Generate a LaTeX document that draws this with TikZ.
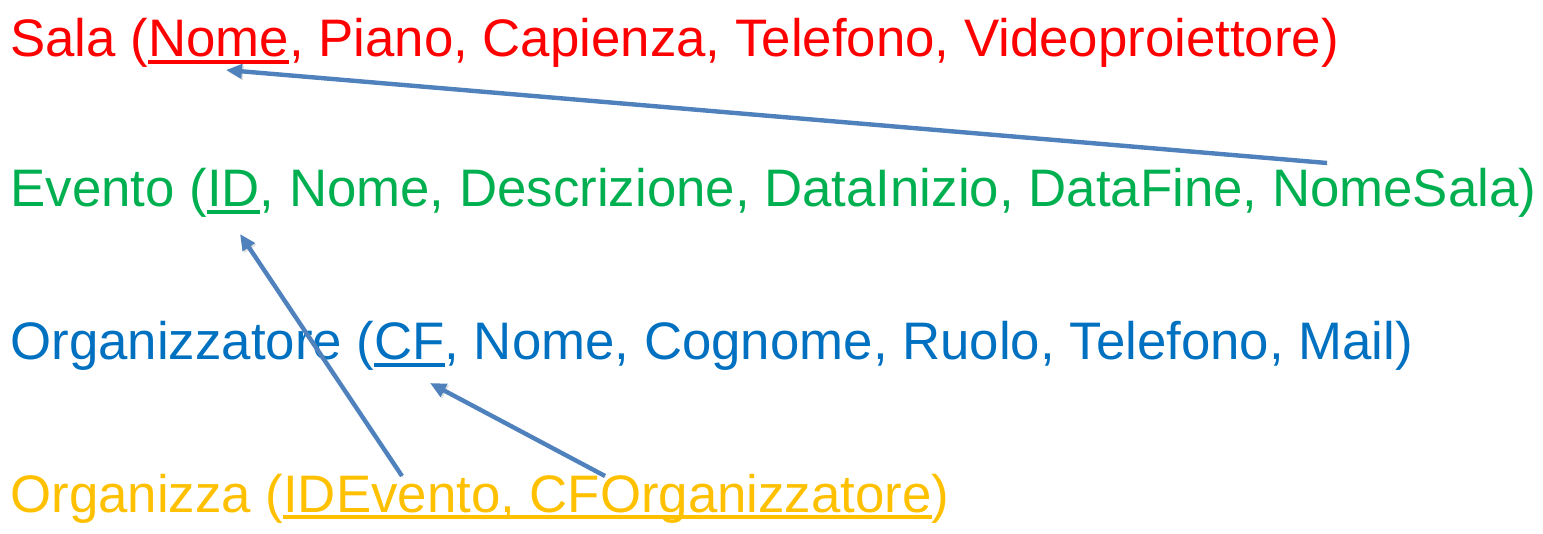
\documentclass[tikz,border=0pt]{standalone}
\usepackage{fontspec}
\setmainfont{Liberation Sans}
\usetikzlibrary{arrows.meta}
\definecolor{salaRed}{RGB}{255,0,0}
\definecolor{eventoGreen}{RGB}{0,176,80}
\definecolor{orgBlue}{RGB}{0,112,192}
\definecolor{orgzYellow}{RGB}{255,192,0}
\definecolor{fkBlue}{RGB}{79,129,189}
\tikzstyle{relazione}=[inner sep=0pt, anchor=base west,
  font=\fontsize{26.4pt}{32pt}\selectfont]
\tikzstyle{line}=[draw, line width=2.2pt, color=fkBlue,
  -{Triangle[length=8pt,width=7pt]},
  preaction={draw=black!12, transform canvas={shift={(0.7pt,-0.8pt)}}}]
% underlined key attribute
\newcommand{\chiave}[1]{\setbox0\hbox{#1}\rlap{\rule[-3.4pt]{\wd0}{1.7pt}}\box0}
\newcommand{\relazione}[3]{node (#1) [relazione, #2] {#3}}

\begin{document}
\begin{tikzpicture}[x=0.5pt, y=-0.5pt]
\useasboundingbox (0,0) rectangle (1543,534);
% Relations
\path (10,57)                  \relazione{sala}{salaRed}{Sala (\chiave{Nome}, Piano, Capienza, Telefono, Videoproiettore)};
\path (sala.base west)+(0,150) \relazione{evento}{eventoGreen}{Evento (\chiave{ID}, Nome, Descrizione, DataInizio, DataFine, NomeSala)};
\path (evento.base west)+(0,153) \relazione{org}{orgBlue}{Organizzatore (\chiave{CF}, Nome, Cognome, Ruolo, Telefono, Mail)};
\path (org.base west)+(0,152) \relazione{orgz}{orgzYellow}{Organizza (\chiave{IDEvento, CFOrganizzatore})};

% Ends of the foreign key arrows
\coordinate (fkNomeSala) at (1327,163);
\coordinate (pkNome) at (226,70);
\coordinate (fkIDEvento) at (402,476);
\coordinate (pkID) at (240,234);
\coordinate (fkCF) at (605,476);
\coordinate (pkCF) at (430,383);

% Draw arrows
\path [line] (fkNomeSala) -- (pkNome);
\path [line] (fkIDEvento) -- (pkID);
\path [line] (fkCF) -- (pkCF);
\end{tikzpicture}
\end{document}
